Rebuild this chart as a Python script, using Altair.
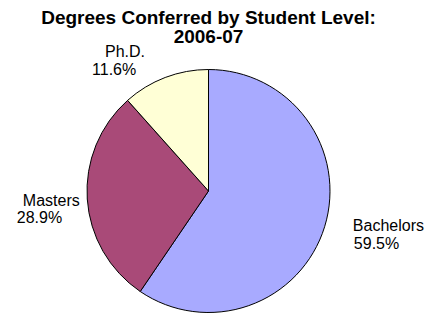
import altair as alt
import pandas as pd

categories = ["Bachelors", "Masters", "Ph.D."]
values = [59.5, 28.9, 11.6]
pct_labels = ["59.5%", "28.9%", "11.6%"]
slice_order = [0, 1, 2]
colors = ["#A8AAFF", "#A94A78", "#FFFFD6"]
title_lines = ["Degrees Conferred by Student Level:", "2006-07"]

df = pd.DataFrame({"level": categories, "value": values, "pct": pct_labels, "order": slice_order})

PIE_R = 121.5
W = 243
H = 243
LABEL_R = 150
FONT = "Liberation Sans"

# label offsets (style): (dx, dy) for name line and percent line
label_offsets = {
    "Bachelors": [(1, -4), (2, 14)],
    "Masters": [(-36, 5), (-42, 22)],
    "Ph.D.": [(-50, 6), (-63, 24)],
}

pie = alt.Chart(df).mark_arc(radius=PIE_R, stroke="black", strokeWidth=1).encode(
    theta=alt.Theta("value:Q", stack=True),
    color=alt.Color("level:N", scale=alt.Scale(domain=categories, range=colors), legend=None),
    order=alt.Order("order:Q"),
)

base_text = alt.Chart(df).transform_window(
    cum="sum(value)", sort=[alt.SortField("order")], frame=[None, 0]
).transform_joinaggregate(
    total="sum(value)"
).transform_calculate(
    mid="2*PI*(datum.cum - datum.value/2)/datum.total"
)

layers = [pie]
for cat in categories:
    for field, (dx, dy) in zip(["level", "pct"], label_offsets[cat]):
        layers.append(
            base_text.transform_filter(alt.datum.level == cat)
            .mark_text(radius=LABEL_R, align="left", baseline="alphabetic", dx=dx, dy=dy,
                       font=FONT, fontSize=16, color="black")
            .encode(theta=alt.Theta("mid:Q", scale=None), text=alt.Text(f"{field}:N"))
        )

chart = alt.layer(*layers).resolve_scale(theta="independent").properties(
    width=W,
    height=H,
    title=alt.Title(title_lines, font=FONT, fontSize=19, fontWeight="bold", color="black",
                    anchor="middle", offset=-3, lineHeight=19),
    padding={"left": 79, "top": 61.5, "right": 97, "bottom": 2},
    autosize="none",
).configure_view(stroke=None)

chart.save("out.html", embed_options={"renderer": "svg", "actions": False})
